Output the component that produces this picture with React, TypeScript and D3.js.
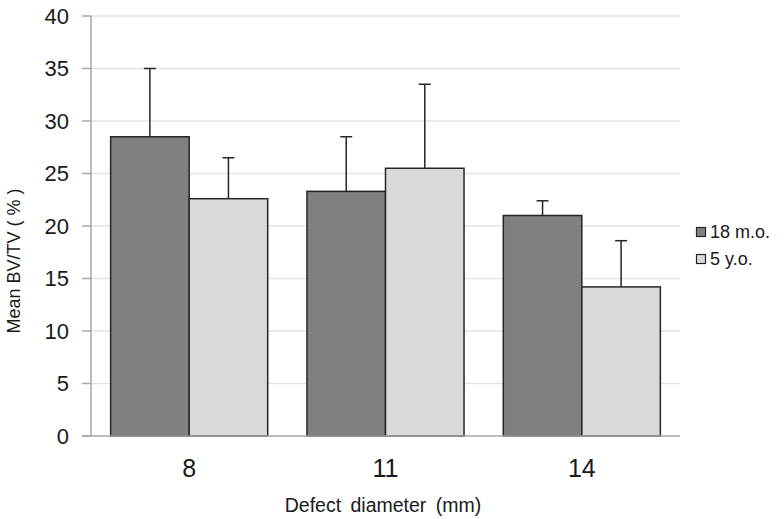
import React from "react";
import * as d3 from "d3";

const categories = ["8", "11", "14"];
const seriesNames = ["18 m.o.", "5 y.o."];
const means18mo = [28.5, 23.3, 21.0];
const errors18mo = [6.5, 5.2, 1.4];
const means5yo = [22.6, 25.5, 14.2];
const errors5yo = [3.9, 8.0, 4.4];
const yTicks = [0, 5, 10, 15, 20, 25, 30, 35, 40];
const colors = ["#808080", "#d9d9d9"];

const W = 784;
const H = 519;
const left = 91;
const right = 680;
const top = 16;
const bottom = 436;
const font = "Arial, 'Liberation Sans', sans-serif";

export default function App() {
  const y = d3.scaleLinear().domain([0, 40]).range([bottom, top]);
  const x0 = d3.scaleBand<string>().domain(categories).range([left, right]).paddingInner(0.2).paddingOuter(0.1);
  const x1 = d3.scaleBand<string>().domain(seriesNames).range([0, x0.bandwidth()]);
  const seriesMeans = [means18mo, means5yo];
  const seriesErr = [errors18mo, errors5yo];
  const step = x0.step();
  const capHalf = 6;

  return (
    <svg width={W} height={H} style={{ position: "absolute", left: 0, top: 0, display: "block", background: "#fff" }}>
      {yTicks.filter((t) => t > 0).map((t) => (
        <line key={"g" + t} x1={left} x2={right} y1={y(t)} y2={y(t)} stroke="#e3e3e3" strokeWidth={1.5} />
      ))}
      {yTicks.map((t) => (
        <line key={"t" + t} x1={82} x2={left} y1={y(t)} y2={y(t)} stroke="#a6a6a6" strokeWidth={1.5} />
      ))}
      {seriesNames.map((s, si) =>
        categories.map((c, ci) => {
          const bx = (x0(c) as number) + (x1(s) as number);
          const v = seriesMeans[si][ci];
          return (
            <rect key={s + c} x={bx} y={y(v)} width={x1.bandwidth()} height={y(0) - y(v)}
              fill={colors[si]} stroke="#262626" strokeWidth={1.5} />
          );
        })
      )}
      {seriesNames.map((s, si) =>
        categories.map((c, ci) => {
          const cx = (x0(c) as number) + (x1(s) as number) + x1.bandwidth() / 2;
          const v = seriesMeans[si][ci];
          const e = seriesErr[si][ci];
          return (
            <g key={"e" + s + c} stroke="#262626" strokeWidth={1.5}>
              <line x1={cx} x2={cx} y1={y(v)} y2={y(v + e)} />
              <line x1={cx - capHalf} x2={cx + capHalf} y1={y(v + e)} y2={y(v + e)} />
            </g>
          );
        })
      )}
      <line x1={left} x2={left} y1={top} y2={bottom} stroke="#a6a6a6" strokeWidth={1.5} />
      <line x1={82} x2={right} y1={bottom} y2={bottom} stroke="#a6a6a6" strokeWidth={1.5} />
      {yTicks.map((t) => (
        <text key={"l" + t} x={69} y={y(t)} dy="0.36em" textAnchor="end" fontFamily={font} fontSize={22} fill="#1a1a1a">
          {t}
        </text>
      ))}
      {categories.map((c) => (
        <text key={"x" + c} x={(x0(c) as number) - step * 0.1 + step / 2} y={477} textAnchor="middle" fontFamily={font} fontSize={25} fill="#1a1a1a">
          {c}
        </text>
      ))}
      <text x={383} y={512} textAnchor="middle" fontFamily={font} fontSize={19.5} fill="#1a1a1a" style={{ wordSpacing: "4px" }}>
        Defect diameter (mm)
      </text>
      <text transform={`translate(20,261) rotate(-90)`} textAnchor="middle" fontFamily={font} fontSize={18} fill="#1a1a1a">
        Mean BV/TV ( % )
      </text>
      {seriesNames.map((s, si) => (
        <g key={"lg" + s} transform={`translate(696,${232 + si * 27})`}>
          <rect x={0.5} y={-4.5} width={9} height={9} fill={colors[si]} stroke="#262626" strokeWidth={1.2} />
          <text x={14} y={0} dy="0.36em" fontFamily={font} fontSize={18} fill="#1a1a1a">{s}</text>
        </g>
      ))}
    </svg>
  );
}
